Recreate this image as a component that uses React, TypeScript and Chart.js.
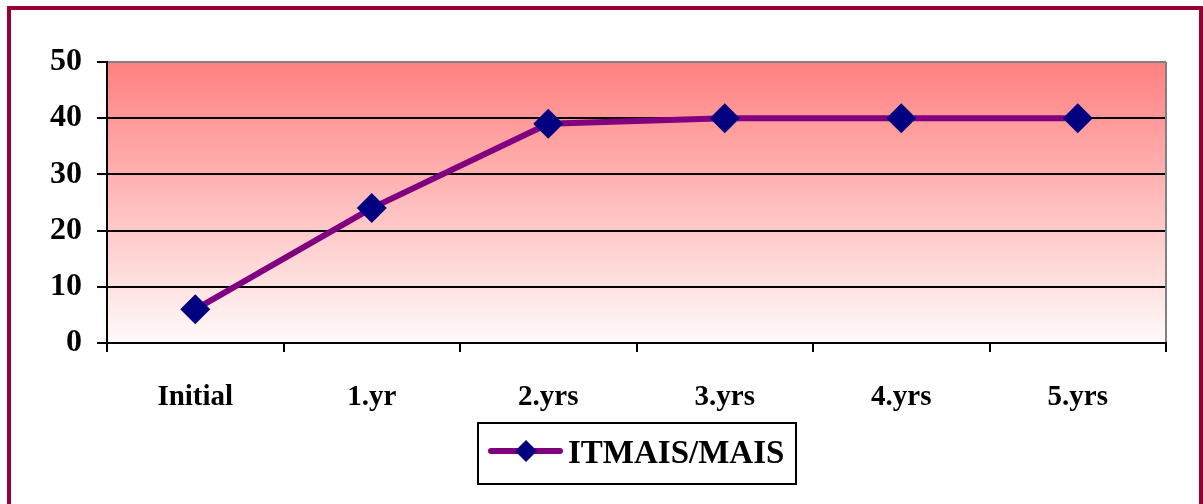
import React, { useEffect, useRef } from "react";
import { Chart, registerables } from "chart.js";

Chart.register(...registerables);

const categories = ["Initial", "1.yr", "2.yrs", "3.yrs", "4.yrs", "5.yrs"];
const seriesLabel = "ITMAIS/MAIS";
const seriesValues = [6, 24, 39, 40, 40, 40];
const yTicks = [0, 10, 20, 30, 40, 50];

const FONT = "'Liberation Serif', 'Times New Roman', serif";
const LINE_COLOR = "#800080";
const MARKER_COLOR = "#000080";

const bgPlugin = {
  id: "bgPlugin",
  beforeDraw(chart: any) {
    const { ctx, chartArea } = chart;
    if (!chartArea) return;
    const g = ctx.createLinearGradient(0, chartArea.top, 0, chartArea.bottom);
    g.addColorStop(0, "rgb(255,128,128)");
    g.addColorStop(1, "rgb(255,250,250)");
    ctx.save();
    ctx.fillStyle = g;
    ctx.fillRect(chartArea.left, chartArea.top, chartArea.right - chartArea.left, chartArea.bottom - chartArea.top);
    ctx.restore();
  },
  afterDatasetsDraw(chart: any) {
    const { ctx, chartArea } = chart;
    ctx.save();
    ctx.strokeStyle = "#808080";
    ctx.lineWidth = 2;
    ctx.beginPath();
    ctx.moveTo(chartArea.right, chartArea.top);
    ctx.lineTo(chartArea.right, chartArea.bottom - 1);
    ctx.stroke();
    ctx.restore();
  },
};

const legendPlugin = {
  id: "boxLegend",
  afterDraw(chart: any) {
    const { ctx } = chart;
    const ds = chart.data.datasets[0];
    const bx = 478, by = 423, bw = 318, bh = 61;
    ctx.save();
    ctx.fillStyle = "#ffffff";
    ctx.fillRect(bx, by, bw, bh);
    ctx.strokeStyle = "#000000";
    ctx.lineWidth = 2;
    ctx.strokeRect(bx, by, bw, bh);
    const ly = 451;
    ctx.strokeStyle = ds.borderColor;
    ctx.lineWidth = 6;
    ctx.lineCap = "round";
    ctx.beginPath();
    ctx.moveTo(491, ly);
    ctx.lineTo(560, ly);
    ctx.stroke();
    const cx = 526, r = 11;
    ctx.fillStyle = ds.pointBackgroundColor;
    ctx.beginPath();
    ctx.moveTo(cx, ly - r);
    ctx.lineTo(cx + r, ly);
    ctx.lineTo(cx, ly + r);
    ctx.lineTo(cx - r, ly);
    ctx.closePath();
    ctx.fill();
    ctx.fillStyle = "#000000";
    ctx.font = `bold 33px ${FONT}`;
    ctx.textAlign = "left";
    ctx.textBaseline = "middle";
    ctx.fillText(ds.label, 568, ly + 3);
    ctx.restore();
  },
};

export default function App() {
  const canvasRef = useRef<HTMLCanvasElement | null>(null);

  useEffect(() => {
    if (!canvasRef.current) return;
    const chart = new Chart(canvasRef.current, {
      type: "line",
      data: {
        labels: categories,
        datasets: [
          {
            label: seriesLabel,
            data: seriesValues,
            borderColor: LINE_COLOR,
            backgroundColor: LINE_COLOR,
            borderWidth: 6,
            pointStyle: "rectRot",
            pointRadius: 15,
            pointHoverRadius: 15,
            pointBackgroundColor: MARKER_COLOR,
            pointBorderColor: MARKER_COLOR,
            pointBorderWidth: 0,
            tension: 0,
            clip: false,
          } as any,
        ],
      },
      plugins: [bgPlugin, legendPlugin],
      options: {
        responsive: false,
        animation: false,
        devicePixelRatio: 1,
        layout: { padding: { top: 62, right: 37, left: 0, bottom: 0 } },
        plugins: {
          legend: { display: false },
          tooltip: { enabled: false },
        },
        scales: {
          x: {
            type: "category",
            offset: true,
            afterFit: (s: any) => {
              s.height = 161;
            },
            grid: {
              offset: true,
              drawOnChartArea: false,
              drawTicks: true,
              tickLength: 9,
              color: "#000000",
              lineWidth: 2,
            },
            border: { color: "#000000", width: 2 },
            ticks: {
              color: "#000000",
              padding: 28,
              maxRotation: 0,
              font: { family: FONT, size: 29, weight: "bold" },
            },
          },
          y: {
            min: 0,
            max: 50,
            afterFit: (s: any) => {
              s.width = 107;
            },
            afterBuildTicks: (s: any) => {
              s.ticks = yTicks.map((v) => ({ value: v }));
            },
            grid: {
              color: (c: any) => (c.tick && c.tick.value === 50 ? "#808080" : "#000000"),
              tickColor: "#000000",
              lineWidth: 2,
              tickLength: 10,
            },
            border: { color: "#000000", width: 2 },
            ticks: {
              color: "#000000",
              padding: 15,
              font: { family: FONT, size: 32, weight: "bold" },
            },
          },
        },
      } as any,
    });
    return () => chart.destroy();
  }, []);

  return (
    <div
      style={{
        position: "absolute",
        left: 0,
        top: 0,
        width: 1203,
        height: 504,
        overflow: "hidden",
        background: "#ffffff",
      }}
    >
      <canvas ref={canvasRef} width={1203} height={504} style={{ position: "absolute", left: 0, top: 0 }} />
      <div
        style={{
          position: "absolute",
          left: 7,
          top: 6,
          width: 1196,
          height: 520,
          boxSizing: "border-box",
          border: "4px solid #990033",
          pointerEvents: "none",
        }}
      />
    </div>
  );
}
